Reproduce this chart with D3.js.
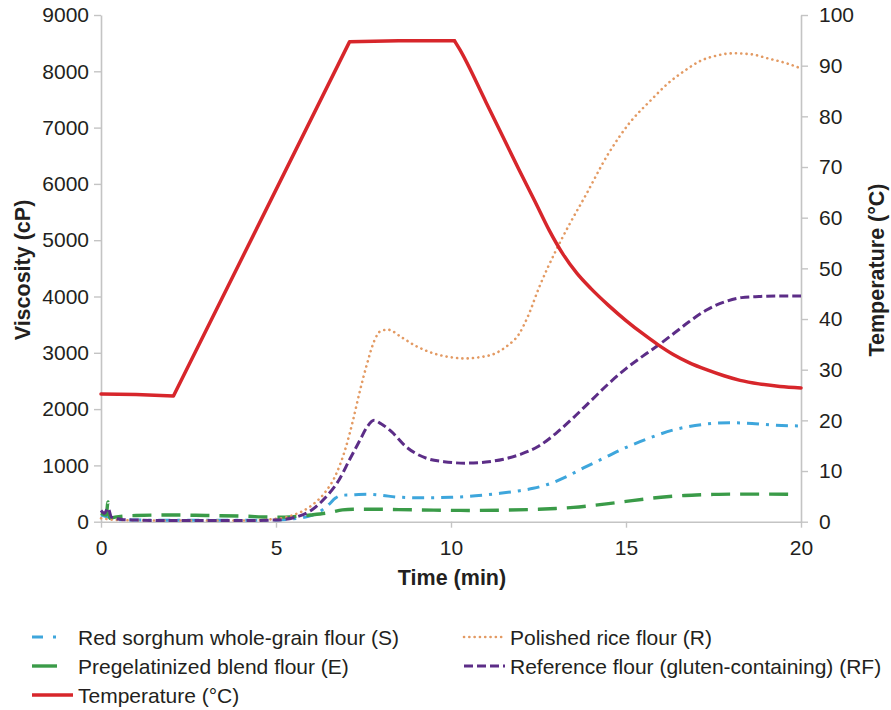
<!DOCTYPE html>
<html>
<head>
<meta charset="utf-8">
<script src="https://cdn.jsdelivr.net/npm/d3@7"></script>
<style>
  html, body { margin: 0; padding: 0; background: #fff; }
  svg { display: block; font-family: "Liberation Sans", Arial, Helvetica, sans-serif; }
</style>
</head>
<body>
<svg id="chart" width="891" height="710"></svg>
<script>
// ---- Data ----
const xTicks = [0, 5, 10, 15, 20];
const yTicks = [0, 1000, 2000, 3000, 4000, 5000, 6000, 7000, 8000, 9000];
const tTicks = [0, 10, 20, 30, 40, 50, 60, 70, 80, 90, 100];

// Red sorghum whole-grain flour (S)
const sTime = [0, 0.2, 0.4, 1, 2, 3, 4, 5, 5.5, 5.9, 6.2, 6.5, 6.7, 6.9, 7.1, 7.6, 8.0, 8.5, 9.2, 10, 10.7, 11.4, 11.9, 12.35, 12.8, 13.3, 13.8, 14.45, 14.9, 15.4, 15.9, 16.35, 16.8, 17.3, 17.96, 18.6, 19.2, 20];
const sVisc = [120, 80, 40, 30, 25, 25, 25, 30, 50, 90, 160, 300, 420, 470, 475, 487, 470, 435, 425, 433, 460, 504, 545, 593, 670, 800, 960, 1155, 1290, 1421, 1540, 1629, 1690, 1735, 1758, 1745, 1717, 1700];

// Polished rice flour (R)
const rTime = [0, 0.5, 2, 4, 5, 5.5, 6, 6.4, 6.7, 7.0, 7.2, 7.4, 7.6, 7.8, 8.0, 8.2, 8.6, 9.0, 9.5, 10.0, 10.4, 10.8, 11.3, 11.6, 11.94, 12.2, 12.51, 13.0, 13.4, 13.85, 14.48, 15.11, 15.7, 16.19, 16.7, 17.14, 17.6, 18.06, 18.6, 19.05, 19.6, 20];
const rVisc = [60, 30, 20, 20, 50, 120, 280, 520, 820, 1330, 1800, 2330, 2800, 3200, 3390, 3410, 3270, 3120, 2990, 2920, 2900, 2920, 3000, 3120, 3330, 3650, 4150, 4820, 5300, 5800, 6520, 7090, 7480, 7780, 8020, 8190, 8280, 8320, 8300, 8230, 8140, 8050];

// Pregelatinized blend flour (E)
const eTime = [0, 0.15, 0.2, 0.25, 0.4, 1, 2, 3, 4, 5, 5.5, 6, 6.5, 6.9, 7.2, 8, 8.5, 9.5, 10.5, 11.5, 12.5, 13, 13.5, 14, 14.5, 15, 15.5, 16, 16.5, 17, 17.5, 18, 18.5, 19, 19.8];
const eVisc = [150, 120, 350, 60, 80, 110, 120, 110, 100, 80, 90, 120, 160, 210, 220, 220, 215, 205, 200, 205, 220, 235, 255, 285, 320, 360, 400, 435, 460, 475, 485, 490, 490, 490, 485];

// Reference flour (gluten-containing) (RF)
const fTime = [0, 0.1, 0.2, 0.3, 0.6, 1, 2, 3, 4, 5, 5.5, 6, 6.4, 6.8, 7.1, 7.4, 7.6, 7.8, 8.0, 8.3, 8.7, 9.3, 9.8, 10.4, 11, 11.5, 12, 12.5, 13, 13.5, 14, 14.5, 15, 15.5, 16, 16.4, 16.8, 17.3, 17.8, 18.3, 18.8, 19.3, 20];
const fVisc = [200, 150, 240, 80, 40, 30, 20, 20, 20, 30, 70, 200, 420, 740, 1100, 1450, 1680, 1800, 1740, 1600, 1340, 1126, 1066, 1040, 1060, 1110, 1200, 1340, 1570, 1850, 2150, 2450, 2720, 2950, 3170, 3360, 3550, 3760, 3900, 3980, 4000, 4010, 4010];

// Temperature (°C): heating / holding segment and cooling segment
const heatTime = [0, 1, 2.07, 7.1, 8.5, 10.1];
const heatVal  = [25.2, 25.1, 24.8, 94.7, 94.9, 94.9];
const coolTime = [10.1, 10.25, 11, 11.94, 12.4, 12.8, 13.2, 13.6, 14.0, 14.5, 15.0, 15.5, 15.9, 16.35, 16.8, 17.3, 17.8, 18.26, 18.8, 19.4, 20];
const coolVal  = [94.9, 93.2, 82.8, 69.5, 63.2, 57.6, 52.8, 49.0, 46.0, 42.7, 39.7, 37.0, 35.0, 33.0, 31.4, 30.0, 28.8, 27.9, 27.2, 26.7, 26.4];

const seriesNames = {
  S: "Red sorghum whole-grain flour (S)",
  R: "Polished rice flour (R)",
  E: "Pregelatinized blend flour (E)",
  RF: "Reference flour (gluten-containing) (RF)",
  T: "Temperature (°C)"
};

// ---- Layout ----
const svg = d3.select("#chart");
const x = d3.scaleLinear().domain([0, 20]).range([101, 801]);
const y = d3.scaleLinear().domain([0, 9000]).range([521.7, 15]);
const yT = d3.scaleLinear().domain([0, 100]).range([521.7, 15]);

const axisColor = "#c4c4c4";
const textColor = "#231f20";
const tickFont = 21;
const titleFont = 21.5;

function styleAxis(g) {
  g.selectAll("path.domain").attr("stroke", axisColor).attr("stroke-width", 1.6);
  g.selectAll(".tick line").attr("stroke", axisColor).attr("stroke-width", 1.4);
  g.selectAll(".tick text").attr("fill", textColor).attr("font-size", tickFont)
    .attr("font-family", "'Liberation Sans', Arial, sans-serif");
}

const fmt = d3.format("d");
svg.append("g").attr("transform", "translate(0,521.7)")
  .call(d3.axisBottom(x).tickValues(xTicks).tickFormat(fmt).tickSize(6).tickPadding(12).tickSizeOuter(0))
  .call(styleAxis);
svg.append("g").attr("transform", "translate(101,0)")
  .call(d3.axisLeft(y).tickValues(yTicks).tickFormat(fmt).tickSize(7).tickPadding(5).tickSizeOuter(0))
  .call(styleAxis);
svg.append("g").attr("transform", "translate(801,0)")
  .call(d3.axisRight(yT).tickValues(tTicks).tickFormat(fmt).tickSize(7).tickPadding(11).tickSizeOuter(0))
  .call(styleAxis);

// Axis titles
svg.append("text").attr("transform", "translate(30,270) rotate(-90)")
  .attr("text-anchor", "middle").attr("font-size", titleFont).attr("font-weight", "bold")
  .attr("fill", textColor).text("Viscosity (cP)");
svg.append("text").attr("transform", "translate(884,270) rotate(-90)")
  .attr("text-anchor", "middle").attr("font-size", titleFont).attr("font-weight", "bold")
  .attr("fill", textColor).text("Temperature (°C)");
svg.append("text").attr("x", 452).attr("y", 585)
  .attr("text-anchor", "middle").attr("font-size", titleFont).attr("font-weight", "bold")
  .attr("fill", textColor).text("Time (min)");

// ---- Series ----
const styles = {
  S:  { color: "#3ea6dc", width: 3,   dash: "12,7,3,7", cap: "butt" },
  E:  { color: "#3a9b48", width: 3.4, dash: "19,10",    cap: "butt" },
  R:  { color: "#e39a63", width: 2.6, dash: "0.1,5.2",  cap: "round" },
  RF: { color: "#5c2d87", width: 3,   dash: "9,4",      cap: "butt" },
  T:  { color: "#d7262b", width: 3.5, dash: null,       cap: "round" }
};

const viscLine = d3.line().x(d => x(d[0])).y(d => y(d[1])).curve(d3.curveMonotoneX);
const heatLine = d3.line().x(d => x(d[0])).y(d => yT(d[1])).curve(d3.curveLinear);
const coolLine = d3.line().x(d => x(d[0])).y(d => yT(d[1])).curve(d3.curveMonotoneX);

function draw(times, vals, key, gen) {
  const st = styles[key];
  svg.append("path")
    .datum(times.map((t, i) => [t, vals[i]]))
    .attr("d", gen)
    .attr("fill", "none")
    .attr("stroke", st.color)
    .attr("stroke-width", st.width)
    .attr("stroke-dasharray", st.dash)
    .attr("stroke-linecap", st.cap)
    .attr("stroke-linejoin", "round");
}

draw(sTime, sVisc, "S", viscLine);
draw(eTime, eVisc, "E", viscLine);
draw(rTime, rVisc, "R", viscLine);
draw(fTime, fVisc, "RF", viscLine);
draw(heatTime, heatVal, "T", heatLine);
draw(coolTime, coolVal, "T", coolLine);

// ---- Legend ----
const legendItems = [
  { key: "S",  col: 0, row: 0, dash: "11,10,3,30" },
  { key: "R",  col: 1, row: 0, dash: "0.1,5.2" },
  { key: "E",  col: 0, row: 1, dash: "25,30" },
  { key: "RF", col: 1, row: 1, dash: "9,4" },
  { key: "T",  col: 0, row: 2, dash: null }
];
const colX = [32, 464];
const textX = [78, 510];
const rowY = [637, 666, 695];

legendItems.forEach(it => {
  const st = styles[it.key];
  const yy = rowY[it.row];
  svg.append("line")
    .attr("x1", colX[it.col]).attr("x2", colX[it.col] + 41)
    .attr("y1", yy).attr("y2", yy)
    .attr("stroke", st.color).attr("stroke-width", st.width)
    .attr("stroke-dasharray", it.dash)
    .attr("stroke-linecap", it.key === "R" ? "round" : "butt");
  svg.append("text")
    .attr("x", textX[it.col]).attr("y", yy + 7.5)
    .attr("font-size", 21).attr("fill", textColor)
    .text(seriesNames[it.key]);
});
</script>
</body>
</html>
